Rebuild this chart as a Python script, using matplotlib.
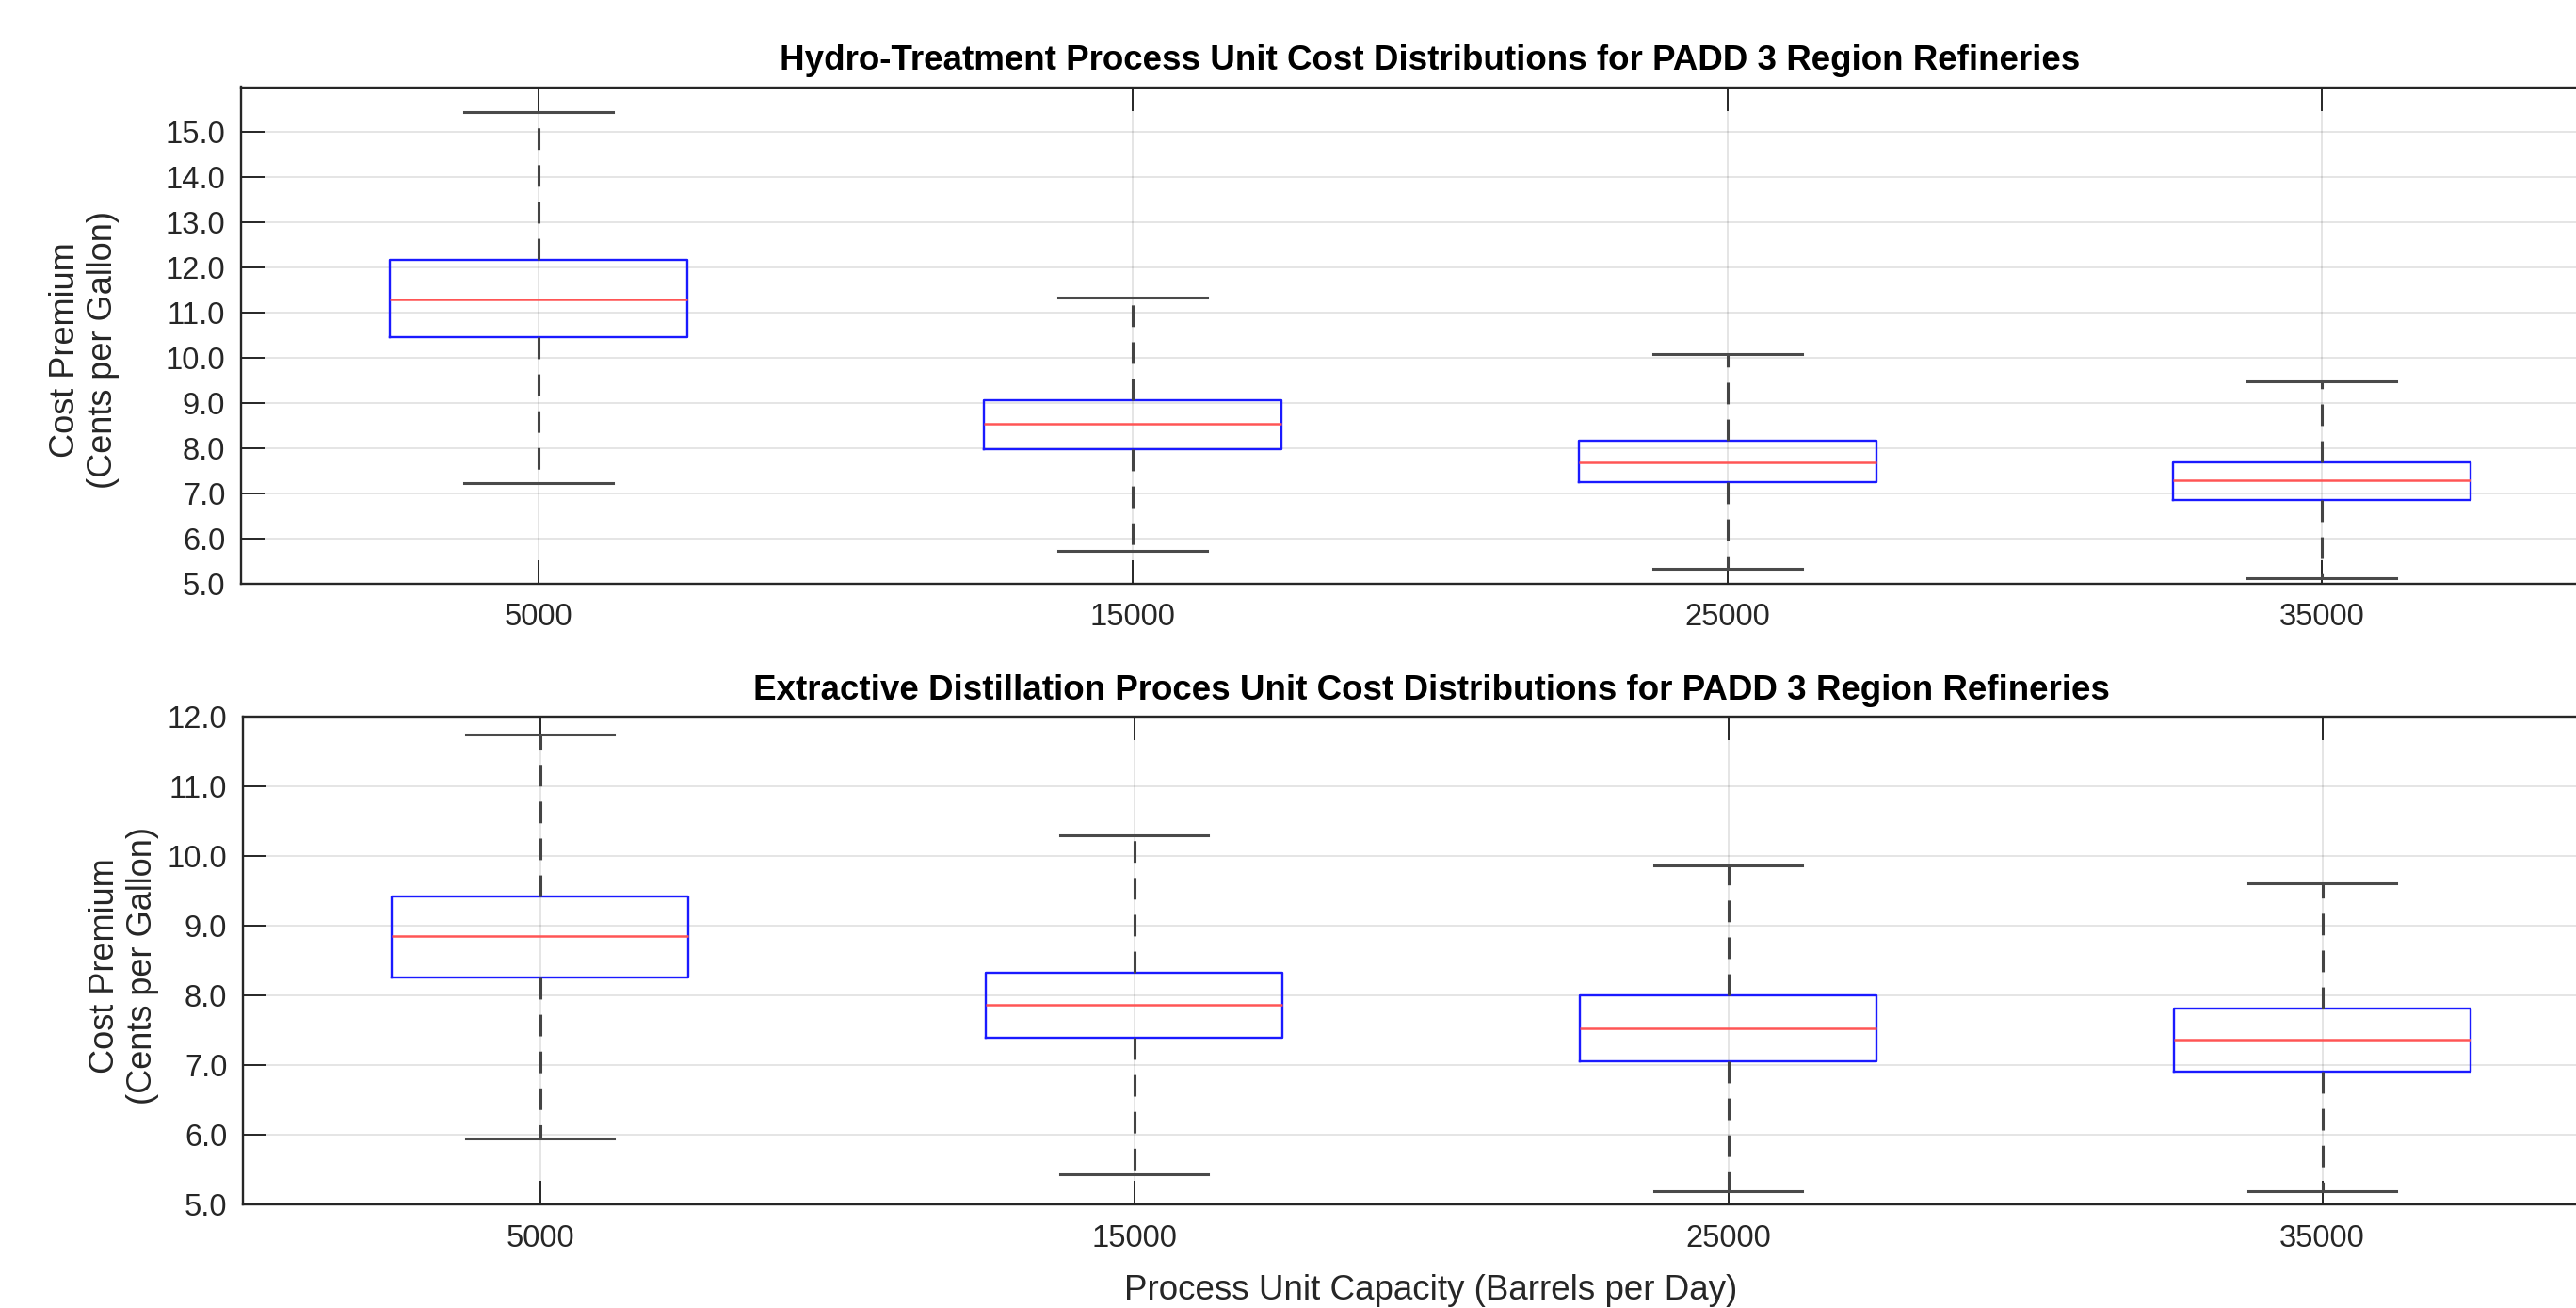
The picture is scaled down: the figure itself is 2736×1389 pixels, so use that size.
import matplotlib
matplotlib.use("Agg")
import matplotlib.pyplot as plt

plt.rcParams['font.family'] = ['Liberation Sans', 'DejaVu Sans']

categories = ["5000", "15000", "25000", "35000"]

# Hydro-treatment: [lower whisker, Q1, median, Q3, upper whisker]
hydro_low = [7.22, 5.73, 5.33, 5.11]
hydro_q1 = [10.45, 7.98, 7.25, 6.85]
hydro_med = [11.29, 8.53, 7.69, 7.29]
hydro_q3 = [12.16, 9.07, 8.16, 7.69]
hydro_high = [15.44, 11.33, 10.09, 9.47]

# Extractive distillation
extr_low = [5.95, 5.43, 5.19, 5.19]
extr_q1 = [8.26, 7.39, 7.06, 6.91]
extr_med = [8.85, 7.86, 7.53, 7.36]
extr_q3 = [9.42, 8.33, 8.00, 7.81]
extr_high = [11.74, 10.30, 9.87, 9.61]

top_ticks = [5.0, 6.0, 7.0, 8.0, 9.0, 10.0, 11.0, 12.0, 13.0, 14.0, 15.0]
bot_ticks = [5.0, 6.0, 7.0, 8.0, 9.0, 10.0, 11.0, 12.0]

title_top = "Hydro-Treatment Process Unit Cost Distributions for PADD 3 Region Refineries"
title_bot = "Extractive Distillation Proces Unit Cost Distributions for PADD 3 Region Refineries"
ylabel = "Cost Premium\n(Cents per Gallon)"
xlabel = "Process Unit Capacity (Barrels per Day)"

W, H = 2736, 1389
fig = plt.figure(figsize=(W / 100, H / 100), dpi=100)

def px_axes(l, r, t, b):
    return [l / W, 1 - b / H, (r - l) / W, (b - t) / H]

ax1 = fig.add_axes(px_axes(256, 2782, 92.5, 619.5))
ax2 = fig.add_axes(px_axes(258, 2782, 761, 1279))

gray = '#262626'

def draw(ax, low, q1, med, q3, high, yticks, ylim, title, lblx, lbly):
    stats = []
    for i in range(len(categories)):
        stats.append(dict(whislo=low[i], q1=q1[i], med=med[i], q3=q3[i],
                          whishi=high[i], fliers=[], label=categories[i]))
    ax.bxp(stats, positions=range(1, len(categories) + 1), widths=0.5,
           capwidths=0.25, showfliers=False, patch_artist=False,
           boxprops=dict(color='#1a1aff', linewidth=1.7),
           medianprops=dict(color='#ff5555', linewidth=1.8),
           whiskerprops=dict(color='#444444', linewidth=2.2, linestyle=(0, (7.5, 5.3))),
           capprops=dict(color='#4a4a4a', linewidth=2.2))
    ax.set_xlim(0.5, 4.5)
    ax.set_ylim(*ylim)
    ax.set_yticks(yticks)
    ax.set_yticklabels([f"{v:.1f}" for v in yticks])
    ax.set_xticks(range(1, len(categories) + 1))
    ax.set_xticklabels(categories)
    ax.grid(True, color='#000000', alpha=0.12, linewidth=1.2)
    ax.set_axisbelow(True)
    ax.tick_params(direction='in', length=18, width=1.4, color=gray,
                   labelcolor=gray, labelsize=23.5, top=True, right=True, pad=12)
    ax.tick_params(axis='x', pad=15)
    for s in ax.spines.values():
        s.set_color(gray)
        s.set_linewidth(1.7)
    ax.set_title(title, fontsize=26.5, fontweight='bold', pad=13)
    ax.set_ylabel(ylabel, fontsize=26, color=gray, linespacing=1.2)
    ax.yaxis.set_label_coords(lblx, lbly)

draw(ax1, hydro_low, hydro_q1, hydro_med, hydro_q3, hydro_high, top_ticks, (5.0, 16.0), title_top, -0.051, 0.47)
draw(ax2, extr_low, extr_q1, extr_med, extr_q3, extr_high, bot_ticks, (5.0, 12.0), title_bot, -0.0353, 0.49)
ax2.set_xlabel(xlabel, fontsize=26.5, color=gray, labelpad=16)

fig.savefig("out.png", dpi=100)
